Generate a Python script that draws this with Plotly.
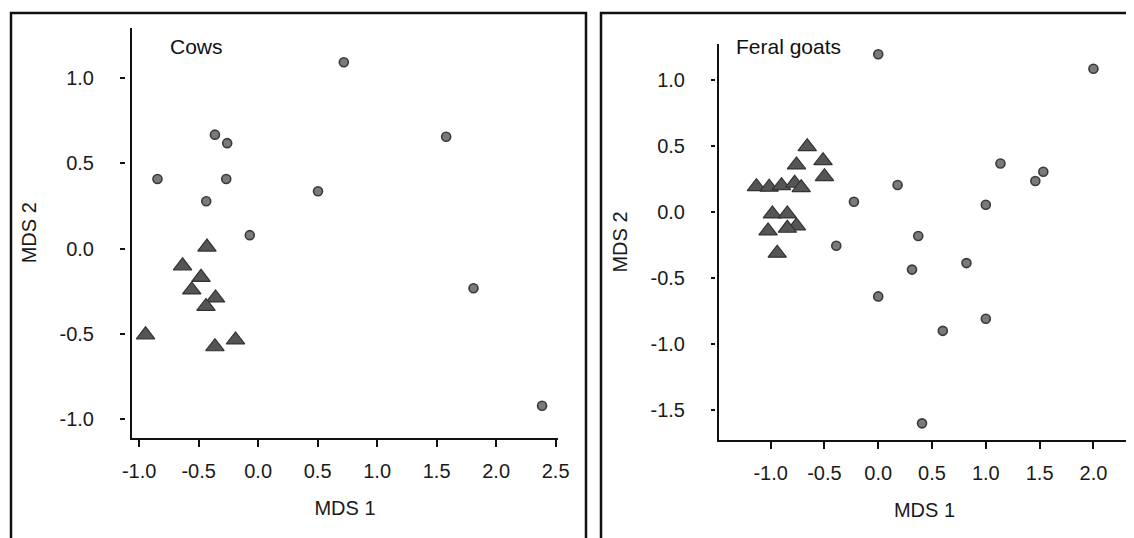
import plotly.graph_objects as go

W, H = 1134, 538
PAGE_OFFSET = 8  # the page body puts the figure 8 px right and down

# ---------------- data ----------------
# Cows panel
cows_tri_x = [-0.43, -0.635, -0.48, -0.558, -0.358, -0.438, -0.946, -0.363, -0.19]
cows_tri_y = [0.01, -0.10, -0.167, -0.241, -0.288, -0.338, -0.504, -0.574, -0.534]
cows_cir_x = [0.72, -0.363, -0.26, 1.58, -0.846, -0.268, 0.503, -0.436, -0.07, 1.81, 2.386]
cows_cir_y = [1.093, 0.669, 0.619, 0.657, 0.409, 0.409, 0.337, 0.279, 0.08, -0.231, -0.92]

# Feral goats panel
goat_tri_x = [-1.132, -1.014, -0.899, -0.777, -0.716, -0.66, -0.76, -0.513, -0.5,
              -0.984, -0.845, -0.76, -0.845, -1.024, -0.939]
goat_tri_y = [0.192, 0.188, 0.20, 0.218, 0.185, 0.495, 0.357, 0.389, 0.268,
              -0.014, -0.014, -0.105, -0.123, -0.143, -0.312]
goat_cir_x = [0.0, 2.0, 1.136, 1.534, 1.46, 0.18, -0.226, 1.0, 0.372, -0.39,
              0.314, 0.82, 0.0, 1.0, 0.6, 0.407]
goat_cir_y = [1.195, 1.086, 0.368, 0.305, 0.235, 0.205, 0.078, 0.055, -0.182, -0.255,
              -0.436, -0.387, -0.639, -0.809, -0.9, -1.601]

cows_xticks = [-1.0, -0.5, 0.0, 0.5, 1.0, 1.5, 2.0, 2.5]
cows_yticks = [-1.0, -0.5, 0.0, 0.5, 1.0]
goat_xticks = [-1.0, -0.5, 0.0, 0.5, 1.0, 1.5, 2.0]
goat_yticks = [-1.5, -1.0, -0.5, 0.0, 0.5, 1.0]

panel_titles = ["Cows", "Feral goats"]
x_title = "MDS 1"
y_title = "MDS 2"

# ---------------- style ----------------
TICK_FONT = dict(family="Liberation Sans, Arial, sans-serif", size=20, color="#1a1a1a")
TRI = dict(symbol="triangle-up", size=16, color="#555555", line=dict(color="#333333", width=1.2))
CIR = dict(symbol="circle", size=9, color="#7a7a7a", line=dict(color="#3a3a3a", width=1.6))


def fx(px):
    return (px - PAGE_OFFSET) / W


def fy(py):
    return 1 - (py - PAGE_OFFSET) / H


def fmt(v):
    return f"{v:.1f}"


fig = go.Figure()
fig.add_trace(go.Scatter(x=cows_tri_x, y=cows_tri_y, mode="markers", marker=TRI,
                         xaxis="x", yaxis="y", showlegend=False))
fig.add_trace(go.Scatter(x=cows_cir_x, y=cows_cir_y, mode="markers", marker=CIR,
                         xaxis="x", yaxis="y3", showlegend=False))
fig.add_trace(go.Scatter(x=goat_tri_x, y=goat_tri_y, mode="markers", marker=TRI,
                         xaxis="x2", yaxis="y2", showlegend=False))
fig.add_trace(go.Scatter(x=goat_cir_x, y=goat_cir_y, mode="markers", marker=CIR,
                         xaxis="x2", yaxis="y4", showlegend=False))

axline = dict(showline=True, linecolor="#111111", linewidth=2, showgrid=False, zeroline=False)

cows_yrange = [-1.106, 1.294]
goat_yrange = [-1.727, 1.273]

fig.update_layout(
    width=W, height=H,
    margin=dict(l=0, r=0, t=0, b=0, autoexpand=False),
    paper_bgcolor="white", plot_bgcolor="white",
    showlegend=False,
    xaxis=dict(domain=[fx(132), fx(558)], range=[-1.06, 2.52], anchor="y",
               tickvals=cows_xticks, ticktext=[fmt(v) for v in cows_xticks],
               ticks="outside", ticklen=7, tickwidth=2, tickcolor="#111111",
               tickfont=TICK_FONT, ticklabelstandoff=7, automargin=False,
               title=dict(text=x_title, font=TICK_FONT, standoff=20), **axline),
    yaxis=dict(domain=[fy(437.5), fy(28)], range=cows_yrange, anchor="x",
               showticklabels=False, ticks="", automargin=False, **axline),
    yaxis3=dict(overlaying="y", anchor="free", position=fx(125), range=cows_yrange,
                showline=False, showgrid=False, zeroline=False, automargin=False,
                tickvals=cows_yticks, ticktext=[fmt(v) for v in cows_yticks],
                ticks="outside", ticklen=5, tickwidth=2, tickcolor="#111111",
                tickfont=TICK_FONT, ticklabelstandoff=22,
                title=dict(text=y_title, font=TICK_FONT, standoff=16)),
    xaxis2=dict(domain=[fx(719), fx(1130)], range=[-1.48, 2.34], anchor="y2",
                tickvals=goat_xticks, ticktext=[fmt(v) for v in goat_xticks],
                ticks="outside", ticklen=7, tickwidth=2, tickcolor="#111111",
                tickfont=TICK_FONT, ticklabelstandoff=7, automargin=False,
                title=dict(text=x_title, font=TICK_FONT, standoff=20), **axline),
    yaxis2=dict(domain=[fy(440), fy(44)], range=goat_yrange, anchor="x2",
                showticklabels=False, ticks="", automargin=False, **axline),
    yaxis4=dict(overlaying="y2", anchor="free", position=fx(715), range=goat_yrange,
                showline=False, showgrid=False, zeroline=False, automargin=False,
                tickvals=goat_yticks, ticktext=[fmt(v) for v in goat_yticks],
                ticks="outside", ticklen=4, tickwidth=2, tickcolor="#111111",
                tickfont=TICK_FONT, ticklabelstandoff=22,
                title=dict(text=y_title, font=TICK_FONT, standoff=16)),
    shapes=[
        dict(type="rect", xref="paper", yref="paper", x0=fx(11), x1=fx(586),
             y0=-0.2, y1=fy(13), line=dict(color="#111111", width=2.5)),
        dict(type="rect", xref="paper", yref="paper", x0=fx(601), x1=1.2,
             y0=-0.2, y1=fy(13), line=dict(color="#111111", width=2.5)),
    ],
    annotations=[
        dict(text=panel_titles[0], xref="paper", yref="paper", x=fx(168), y=fy(46),
             xanchor="left", yanchor="middle", showarrow=False,
             font=dict(family="Liberation Sans, Arial, sans-serif", size=21, color="#111111")),
        dict(text=panel_titles[1], xref="paper", yref="paper", x=fx(734), y=fy(46),
             xanchor="left", yanchor="middle", showarrow=False,
             font=dict(family="Liberation Sans, Arial, sans-serif", size=21, color="#111111")),
    ],
)

fig.write_html("out.html")
